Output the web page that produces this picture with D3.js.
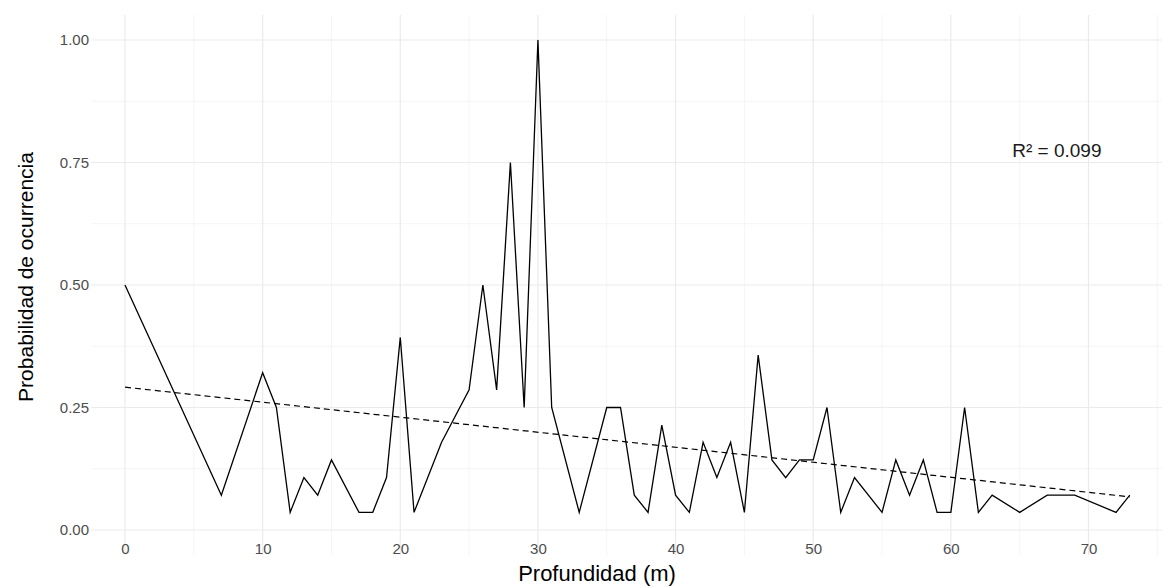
<!DOCTYPE html>
<html>
<head>
<meta charset="utf-8">
<script src="https://cdn.jsdelivr.net/npm/d3@7"></script>
<style>
  body { margin: 0; background: #fff; }
  svg { display: block; font-family: "Liberation Sans", Arial, sans-serif; }
</style>
</head>
<body>
<div id="chart"></div>
<script>
// depth (m) and probability of occurrence
var depth = [0, 7, 10, 11, 12, 13, 14, 15, 17, 18, 19, 20, 21, 23, 25, 26, 27, 28, 29, 30,
             31, 33, 35, 36, 37, 38, 39, 40, 41, 42, 43, 44, 45, 46, 47, 48, 49, 50, 51, 52,
             53, 55, 56, 57, 58, 59, 60, 61, 62, 63, 65, 67, 69, 72, 73];
var prob = [0.5, 0.071, 0.321, 0.25, 0.036, 0.107, 0.071, 0.143, 0.036, 0.036, 0.107, 0.393, 0.036, 0.179, 0.286, 0.5, 0.286, 0.75, 0.25, 1,
            0.25, 0.036, 0.25, 0.25, 0.071, 0.036, 0.214, 0.071, 0.036, 0.179, 0.107, 0.179, 0.036, 0.357, 0.143, 0.107, 0.143, 0.143, 0.25, 0.036,
            0.107, 0.036, 0.143, 0.071, 0.143, 0.036, 0.036, 0.25, 0.036, 0.071, 0.036, 0.071, 0.071, 0.036, 0.071];

var xTicks = [0, 10, 20, 30, 40, 50, 60, 70];
var xMinor = [5, 15, 25, 35, 45, 55, 65, 75];
var yTicks = [0, 0.25, 0.5, 0.75, 1];
var yMinor = [0.125, 0.375, 0.625, 0.875];
var r2Label = 'R² = 0.099';
var r2Pos = [67.7, 0.775];

var W = 1167, H = 586;
var panel = {left: 91, right: 1162, top: 15, bottom: 555};

var svg = d3.select('#chart').append('svg')
    .attr('width', W)
    .attr('height', H);

var x = d3.scaleLinear().domain([0, 70]).range([125, 1088.5]);
var y = d3.scaleLinear().domain([0, 1]).range([530, 40]);

// grid
var grid = svg.append('g').attr('class', 'grid');
grid.selectAll('.xminor').data(xMinor).enter().append('line')
    .attr('x1', d => x(d)).attr('x2', d => x(d))
    .attr('y1', panel.top).attr('y2', panel.bottom)
    .attr('stroke', '#f2f2f2').attr('stroke-width', 0.8);
grid.selectAll('.yminor').data(yMinor).enter().append('line')
    .attr('x1', panel.left).attr('x2', panel.right)
    .attr('y1', d => y(d)).attr('y2', d => y(d))
    .attr('stroke', '#f2f2f2').attr('stroke-width', 0.8);
grid.selectAll('.xmajor').data(xTicks).enter().append('line')
    .attr('x1', d => x(d)).attr('x2', d => x(d))
    .attr('y1', panel.top).attr('y2', panel.bottom)
    .attr('stroke', '#ebebeb').attr('stroke-width', 1.2);
grid.selectAll('.ymajor').data(yTicks).enter().append('line')
    .attr('x1', panel.left).attr('x2', panel.right)
    .attr('y1', d => y(d)).attr('y2', d => y(d))
    .attr('stroke', '#ebebeb').attr('stroke-width', 1.2);

// axes (labels only, theme_minimal)
var xAxis = svg.append('g')
    .attr('transform', 'translate(0,' + (panel.bottom - 20) + ')')
    .call(d3.axisBottom(x).tickValues(xTicks).tickSize(0).tickPadding(8).tickFormat(d3.format('d')));
xAxis.select('.domain').remove();
xAxis.selectAll('text').attr('fill', '#4d4d4d').style('font-size', '15px');

var yAxis = svg.append('g')
    .attr('transform', 'translate(' + (panel.left - 2) + ',0)')
    .call(d3.axisLeft(y).tickValues(yTicks).tickSize(0).tickPadding(0).tickFormat(d3.format('.2f')));
yAxis.select('.domain').remove();
yAxis.selectAll('text').attr('fill', '#4d4d4d').style('font-size', '15px');

// linear fit computed from the data
var mx = d3.mean(depth), my = d3.mean(prob);
var sxy = d3.sum(depth, (d, i) => (d - mx) * (prob[i] - my));
var sxx = d3.sum(depth, d => (d - mx) * (d - mx));
var slope = sxy / sxx, icpt = my - slope * mx;
var ext = d3.extent(depth);

svg.append('path')
    .datum(ext.map(d => [d, icpt + slope * d]))
    .attr('fill', 'none')
    .attr('stroke', '#000')
    .attr('stroke-width', 1.2)
    .attr('stroke-dasharray', '6,4')
    .attr('d', d3.line().x(d => x(d[0])).y(d => y(d[1])));

// observed series
var line = d3.line()
    .x((d, i) => x(depth[i]))
    .y(d => y(d));

svg.append('path')
    .datum(prob)
    .attr('fill', 'none')
    .attr('stroke', '#000')
    .attr('stroke-width', 1.3)
    .attr('stroke-linejoin', 'miter')
    .attr('d', line);

// R² annotation
svg.append('text')
    .attr('x', x(r2Pos[0]))
    .attr('y', y(r2Pos[1]))
    .attr('text-anchor', 'middle')
    .attr('dominant-baseline', 'central')
    .style('font-size', '19px')
    .attr('fill', '#1a1a1a')
    .text(r2Label);

// axis titles
svg.append('text')
    .attr('x', 597)
    .attr('y', 581)
    .attr('text-anchor', 'middle')
    .style('font-size', '22px')
    .text('Profundidad (m)');

svg.append('text')
    .attr('transform', 'translate(33,277) rotate(-90)')
    .attr('text-anchor', 'middle')
    .style('font-size', '21px')
    .text('Probabilidad de ocurrencia');
</script>
</body>
</html>
